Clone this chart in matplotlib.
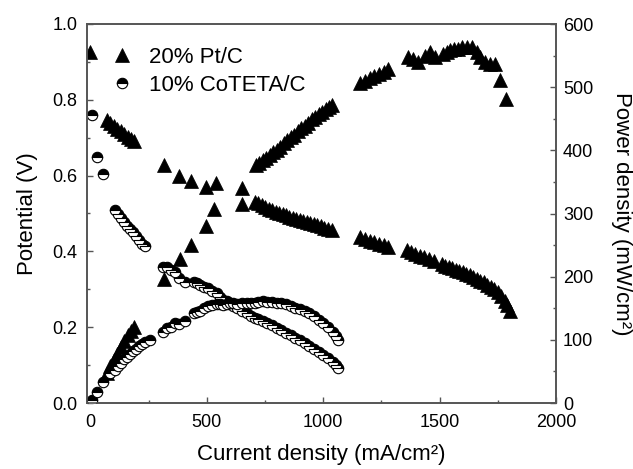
import matplotlib
matplotlib.use("Agg")
import matplotlib.pyplot as plt
from matplotlib.ticker import MultipleLocator

plt.rcParams['font.family'] = ['Liberation Sans', 'DejaVu Sans']

# ---- data ----
# 20% Pt/C polarization (current density mA/cm2, potential V)
pt_i_v = [0, 70, 85, 100, 115, 130, 145, 160, 175, 186, 316, 380, 432, 495, 538, 649,
          707, 720, 735, 750, 765, 780, 795, 810, 825, 840, 855, 870, 885, 900, 915, 930,
          945, 960, 975, 990, 1005, 1020, 1036, 1160, 1180, 1200, 1220, 1240, 1260, 1279,
          1358, 1375, 1395, 1415, 1435, 1455, 1475, 1509, 1525, 1540, 1555, 1570, 1585,
          1600, 1615, 1630, 1645, 1660, 1675, 1690, 1705, 1720, 1735, 1750, 1765, 1780,
          1790, 1802]
pt_v = [0.925, 0.747, 0.738, 0.731, 0.724, 0.717, 0.710, 0.703, 0.697, 0.690, 0.628,
        0.599, 0.586, 0.569, 0.581, 0.525, 0.531, 0.527, 0.522, 0.517, 0.512, 0.508,
        0.504, 0.501, 0.498, 0.495, 0.492, 0.489, 0.486, 0.483, 0.480, 0.477, 0.475,
        0.472, 0.469, 0.466, 0.463, 0.460, 0.456, 0.437, 0.432, 0.428, 0.424, 0.420,
        0.416, 0.412, 0.404, 0.398, 0.393, 0.389, 0.385, 0.380, 0.375, 0.366, 0.362,
        0.359, 0.356, 0.352, 0.349, 0.345, 0.341, 0.337, 0.333, 0.328, 0.323, 0.318,
        0.312, 0.306, 0.300, 0.292, 0.283, 0.270, 0.258, 0.243]

# 20% Pt/C power density (mA/cm2, mW/cm2)
pt_i_p = [0, 70, 85, 100, 115, 130, 145, 160, 175, 186, 316, 384, 432, 495, 532, 649,
          710, 725, 740, 755, 770, 785, 800, 815, 830, 845, 860, 875, 890, 905, 920, 935,
          950, 965, 980, 995, 1010, 1025, 1036, 1160, 1180, 1200, 1220, 1240, 1260, 1279,
          1365, 1385, 1408, 1437, 1459, 1480, 1516, 1530, 1544, 1562, 1580, 1598, 1616,
          1637, 1659, 1673, 1695, 1716, 1738, 1759, 1785]
pt_p = [0, 48, 58, 68, 78, 88, 98, 107, 114, 120, 197, 228, 250, 281, 307, 340,
        376, 380, 384, 388, 392, 397, 401, 406, 411, 416, 421, 425, 430, 435, 439, 444,
        449, 453, 457, 461, 465, 469, 471, 506, 510, 514, 517, 521, 524, 528,
        548, 544, 540, 550, 556, 548, 553, 556, 559, 560, 561, 563, 564, 564,
        556, 548, 540, 537, 537, 511, 482]

# 10% CoTETA/C polarization
co_i_v = [5, 27, 55, 105, 118, 131, 144, 157, 170, 183, 196, 209, 222, 234, 313, 330,
          345, 363, 380, 406, 443, 456, 470, 488, 506, 524, 542, 556, 571, 585, 599, 614,
          628, 650, 671, 690, 707, 720, 740, 760, 780, 800, 820, 840, 860, 880, 900, 920,
          940, 960, 980, 1000, 1020, 1040, 1055, 1065]
co_v = [0.760, 0.648, 0.604, 0.509, 0.498, 0.487, 0.477, 0.468, 0.459, 0.450, 0.440,
        0.430, 0.420, 0.415, 0.360, 0.360, 0.352, 0.346, 0.330, 0.320, 0.320, 0.316,
        0.311, 0.307, 0.303, 0.296, 0.289, 0.281, 0.272, 0.268, 0.263, 0.257, 0.250,
        0.244, 0.237, 0.230, 0.224, 0.222, 0.217, 0.211, 0.205, 0.199, 0.193, 0.186,
        0.179, 0.172, 0.165, 0.158, 0.151, 0.143, 0.135, 0.127, 0.118, 0.108, 0.100,
        0.093]

# 10% CoTETA/C power density
co_i_p = [5, 27, 55, 84, 105, 118, 131, 144, 157, 170, 183, 196, 209, 222, 234, 256,
          313, 330, 345, 363, 380, 406, 443, 456, 470, 488, 506, 524, 542, 556, 571, 585,
          599, 614, 628, 650, 671, 690, 707, 720, 740, 760, 780, 800, 820, 840, 860, 880,
          900, 920, 940, 960, 980, 1000, 1020, 1040, 1055, 1065]
co_p = [4, 18, 33, 47, 53, 59, 64, 69, 73, 78, 82, 86, 90, 93, 97, 100,
        113, 119, 121, 126, 125, 130, 142, 144, 146, 150, 153, 155, 157, 156, 155, 157,
        158, 158, 157, 159, 159, 159, 158, 160, 161, 160, 160, 159, 158, 156, 154, 151,
        149, 145, 142, 137, 132, 127, 120, 112, 106, 99]

labels = ["20% Pt/C", "10% CoTETA/C"]

# ---- figure ----
fig = plt.figure(figsize=(6.33, 4.69), dpi=100)
ax = fig.add_axes([87 / 633, 66 / 469, 469 / 633, 379 / 469])
ax2 = ax.twinx()

spine_c = '#555555'
tri = dict(marker='^', linestyle='none', color='black', markersize=9.5,
           markeredgewidth=0.5)
circ = dict(marker='o', linestyle='none', markersize=7.5, fillstyle='top',
            markerfacecolor='black', markerfacecoloralt='white',
            markeredgecolor='black', markeredgewidth=0.8)

h1, = ax.plot(pt_i_v, pt_v, label=labels[0], **tri)
h2, = ax.plot(co_i_v, co_v, label=labels[1], **circ)
ax2.plot(pt_i_p, pt_p, **tri)
ax2.plot(co_i_p, co_p, **circ)

ax.set_xlim(-15, 2000)
ax.set_ylim(0, 1.0)
ax2.set_ylim(0, 600)

ax.xaxis.set_major_locator(MultipleLocator(500))
ax.xaxis.set_minor_locator(MultipleLocator(250))
ax.yaxis.set_major_locator(MultipleLocator(0.2))
ax.yaxis.set_minor_locator(MultipleLocator(0.1))
ax2.yaxis.set_major_locator(MultipleLocator(100))
ax2.yaxis.set_minor_locator(MultipleLocator(50))
ax.yaxis.set_major_formatter(plt.FuncFormatter(lambda v, p: f"{v:.1f}"))

for a in (ax, ax2):
    for s in a.spines.values():
        s.set_color(spine_c)
        s.set_linewidth(1.2)

ax.tick_params(axis='both', which='both', direction='in', colors=spine_c,
               labelcolor='black', labelsize=13, top=False, right=False)
ax.tick_params(which='major', length=4, width=1.0)
ax.tick_params(which='minor', length=2.5, width=1.0)
ax.tick_params(axis='y', pad=7)
ax.tick_params(axis='x', pad=8)
ax2.tick_params(axis='y', which='both', direction='in', colors=spine_c,
                labelcolor='black', labelsize=13, pad=5)
ax2.tick_params(which='major', length=4, width=1.0)
ax2.tick_params(which='minor', length=2.5, width=1.0)

ax.set_xlabel("Current density (mA/cm²)", fontsize=16)
ax.set_ylabel("Potential (V)", fontsize=16)
ax2.set_ylabel("Power density (mW/cm²)", fontsize=16, rotation=270)
ax.xaxis.set_label_coords(0.5, -0.108)
ax.yaxis.set_label_coords(-0.104, 0.5)
ax2.yaxis.set_label_coords(1.162, 0.5)

leg = ax.legend(handles=[h1, h2], loc='upper left', bbox_to_anchor=(0.051, 0.939),
                frameon=False, fontsize=16, handlelength=1.0, handletextpad=0.7,
                borderpad=0, borderaxespad=0, labelspacing=0.29, markerscale=1.0)

fig.savefig("out.png", dpi=100)
